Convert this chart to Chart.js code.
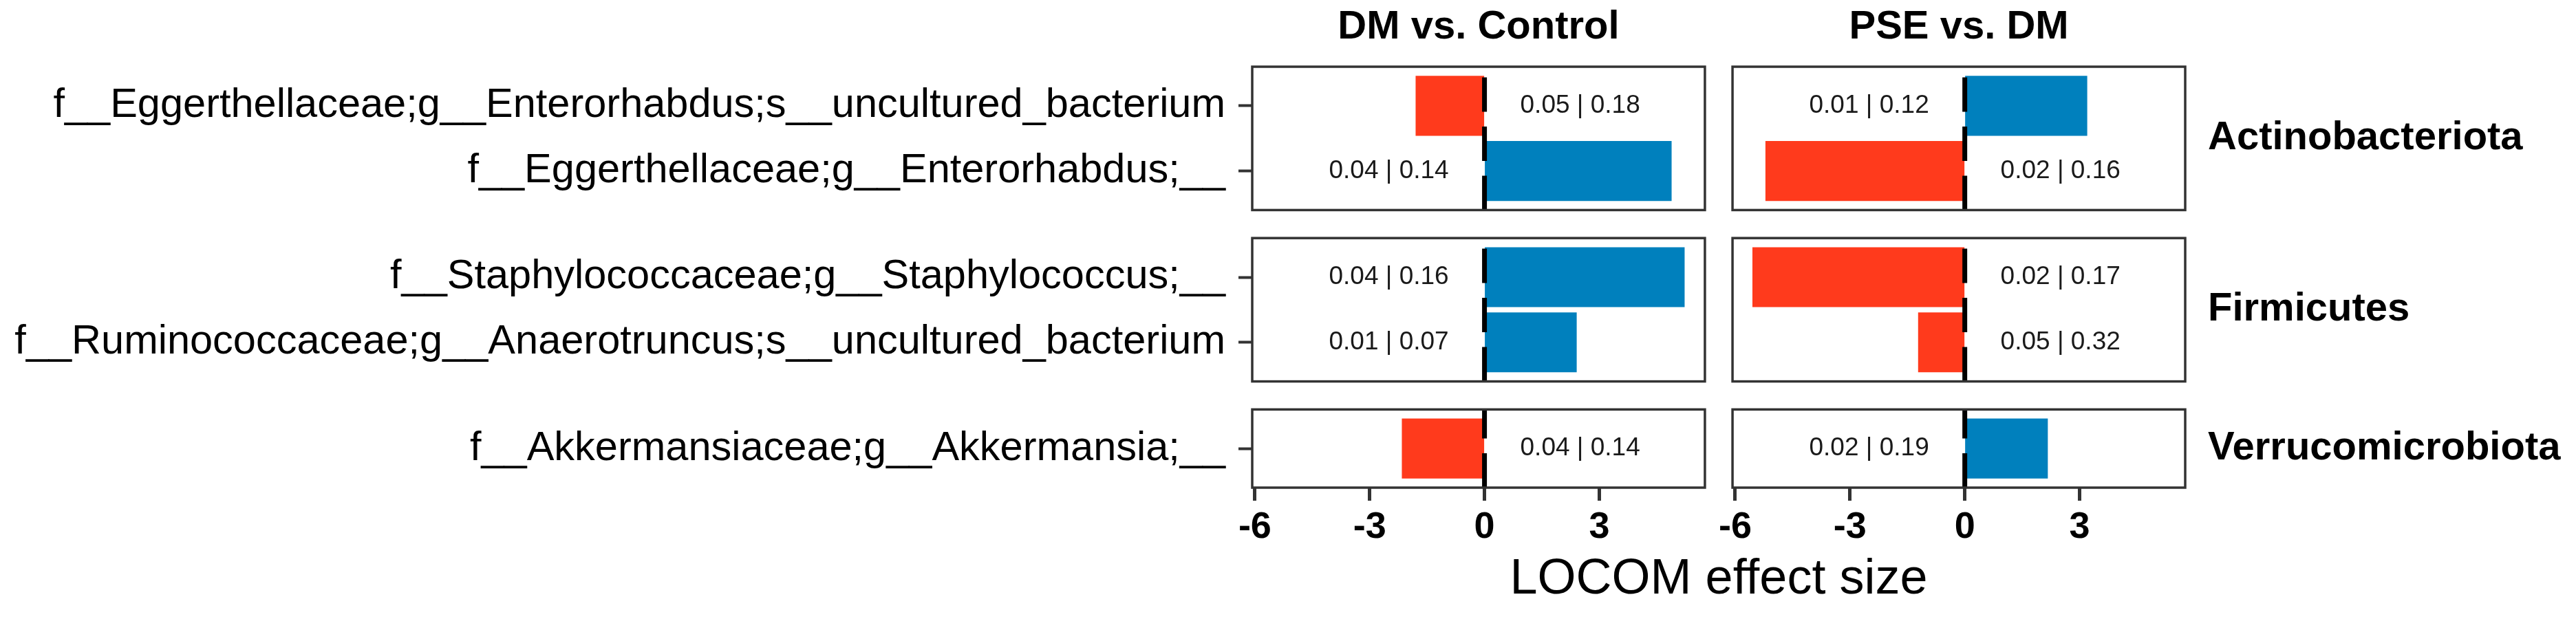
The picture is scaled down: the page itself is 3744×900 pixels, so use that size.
<!DOCTYPE html>
<html>
<head>
<meta charset="utf-8">
<title>LOCOM effect size</title>
<script src="https://cdn.jsdelivr.net/npm/chart.js@4.4.1/dist/chart.umd.min.js"></script>
<style>
  html, body { margin: 0; padding: 0; background: #fff; }
  #chart { display: block; }
</style>
</head>
<body>
<canvas id="chart" width="3744" height="900"></canvas>
<script>
// Taxa, top to bottom, and the phylum (facet row) each one sits in
const taxa = [
    'f__Eggerthellaceae;g__Enterorhabdus;s__uncultured_bacterium',
    'f__Eggerthellaceae;g__Enterorhabdus;__',
    'f__Staphylococcaceae;g__Staphylococcus;__',
    'f__Ruminococcaceae;g__Anaerotruncus;s__uncultured_bacterium',
    'f__Akkermansiaceae;g__Akkermansia;__'
];
const taxonPhylum = ['Actinobacteriota', 'Actinobacteriota', 'Firmicutes', 'Firmicutes', 'Verrucomicrobiota'];
const phyla = ['Actinobacteriota', 'Firmicutes', 'Verrucomicrobiota'];
const comparisons = ['DM vs. Control', 'PSE vs. DM'];

// LOCOM effect sizes
const effectDM = [-1.80, 4.89, 5.23, 2.41, -2.16];
const effectPSE = [3.20, -5.21, -5.55, -1.22, 2.17];

// p-value | FDR printed next to each bar
const statsDM = ['0.05 | 0.18', '0.04 | 0.14', '0.04 | 0.16', '0.01 | 0.07', '0.04 | 0.14'];
const statsPSE = ['0.01 | 0.12', '0.02 | 0.16', '0.02 | 0.17', '0.05 | 0.32', '0.02 | 0.19'];

const xTicks = [-6, -3, 0, 3];

const RED = '#FF3A1C';
const BLUE = '#0080BD';
const FONT = "'Liberation Sans', Arial, Helvetica, sans-serif";
const labelOffset = 2.5;   // stats text sits on the other side of zero

Chart.defaults.font.family = FONT;

const effects = [effectDM, effectPSE];
const stats = [statsDM, statsPSE];
const members = phyla.map(p => taxa.map((t, i) => i).filter(i => taxonPhylum[i] === p));

// Facets: rows stacked on the left, columns stacked at the bottom,
// with empty axes acting as the gaps between panels
const scales = {};
phyla.forEach((p, r) => {
    if (r > 0) {
        scales['yg' + r] = {
            type: 'linear', display: false, position: 'left',
            stack: 'rows', stackWeight: 0.43, weight: 11 - 2 * r
        };
    }
    scales['y' + r] = {
        type: 'linear',
        position: 'left',
        stack: 'rows',
        stackWeight: members[r].length + 0.2,
        weight: 10 - 2 * r,
        reverse: true,
        offset: false,
        min: 0.4,
        max: members[r].length + 0.6,
        afterBuildTicks: ax => { ax.ticks = members[r].map((t, j) => ({ value: j + 1 })); },
        afterFit: ax => { ax.width = 1820; },
        ticks: {
            autoSkip: false,
            padding: 19,
            color: '#000',
            font: { size: 59.5 },
            callback: v => taxa[members[r][v - 1]]
        },
        grid: { display: true, offset: false, drawOnChartArea: false, drawTicks: true, tickLength: 20, tickWidth: 4, tickColor: '#333' },
        border: { display: false }
    };
});

comparisons.forEach((c, k) => {
    if (k > 0) {
        scales['xg' + k] = {
            type: 'linear', display: false, position: 'bottom',
            stack: 'cols', stackWeight: 0.061, weight: 2 * k - 1
        };
    }
    scales['x' + k] = {
        type: 'linear',
        position: 'bottom',
        stack: 'cols',
        stackWeight: 1,
        weight: 2 * k,
        min: -6.07,
        max: 5.76,
        afterBuildTicks: ax => { ax.ticks = xTicks.map(v => ({ value: v })); },
        afterFit: ax => { ax.height = 80; },
        ticks: {
            autoSkip: false,
            maxRotation: 0,
            padding: 7,
            color: '#000',
            font: { size: 54, weight: 'bold' },
            callback: v => String(v)
        },
        grid: { display: true, drawOnChartArea: false, drawTicks: true, tickLength: 19, tickWidth: 5, tickColor: '#333' },
        border: { display: false }
    };
});

// One bar dataset per panel
const datasets = [];
comparisons.forEach((c, k) => {
    phyla.forEach((p, r) => {
        datasets.push({
            label: c + ' / ' + p,
            data: members[r].map((t, j) => ({ x: effects[k][t], y: j + 1 })),
            backgroundColor: members[r].map(t => effects[k][t] < 0 ? RED : BLUE),
            borderWidth: 0,
            grouped: false,
            categoryPercentage: 1,
            barPercentage: members[r].length > 1 ? 0.92 : 0.92 / 1.2,
            xAxisID: 'x' + k,
            yAxisID: 'y' + r
        });
    });
});

// Zero lines, stats text, panel borders and strip labels
const facetPlugin = {
    id: 'facets',
    afterDatasetsDraw(chart) {
        const ctx = chart.ctx;
        const area = chart.chartArea;
        ctx.save();
        ctx.textBaseline = 'middle';
        comparisons.forEach((c, k) => {
            const xs = chart.scales['x' + k];
            phyla.forEach((p, r) => {
                const ys = chart.scales['y' + r];
                const zero = xs.getPixelForValue(0);

                ctx.strokeStyle = '#000';
                ctx.lineWidth = 7;
                ctx.setLineDash([50, 21.5]);
                ctx.beginPath();
                ctx.moveTo(zero, ys.bottom);
                ctx.lineTo(zero, ys.top);
                ctx.stroke();
                ctx.setLineDash([]);

                ctx.fillStyle = '#1a1a1a';
                ctx.font = '37px ' + FONT;
                ctx.textAlign = 'center';
                members[r].forEach((t, j) => {
                    const side = effects[k][t] < 0 ? labelOffset : -labelOffset;
                    ctx.fillText(stats[k][t], xs.getPixelForValue(side), ys.getPixelForValue(j + 1));
                });

                ctx.strokeStyle = '#333';
                ctx.lineWidth = 3.5;
                ctx.strokeRect(xs.left, ys.top, xs.right - xs.left, ys.bottom - ys.top);
            });

            ctx.fillStyle = '#000';
            ctx.font = 'bold 58px ' + FONT;
            ctx.textAlign = 'center';
            ctx.fillText(c, (xs.left + xs.right) / 2, area.top - 57);
        });

        ctx.textAlign = 'left';
        phyla.forEach((p, r) => {
            const ys = chart.scales['y' + r];
            ctx.fillText(p, area.right + 33, (ys.top + ys.bottom) / 2);
        });

        ctx.font = '72px ' + FONT;
        ctx.textAlign = 'center';
        ctx.fillText('LOCOM effect size', (area.left + area.right) / 2, area.bottom + 134);
        ctx.restore();
    }
};

new Chart(document.getElementById('chart').getContext('2d'), {
    type: 'bar',
    data: { datasets: datasets },
    options: {
        indexAxis: 'y',
        responsive: false,
        animation: false,
        devicePixelRatio: 1,
        layout: { padding: { top: 97, right: 568, bottom: 111, left: 0 } },
        scales: scales,
        plugins: {
            legend: { display: false },
            tooltip: { enabled: false }
        }
    },
    plugins: [facetPlugin]
});
</script>
</body>
</html>
